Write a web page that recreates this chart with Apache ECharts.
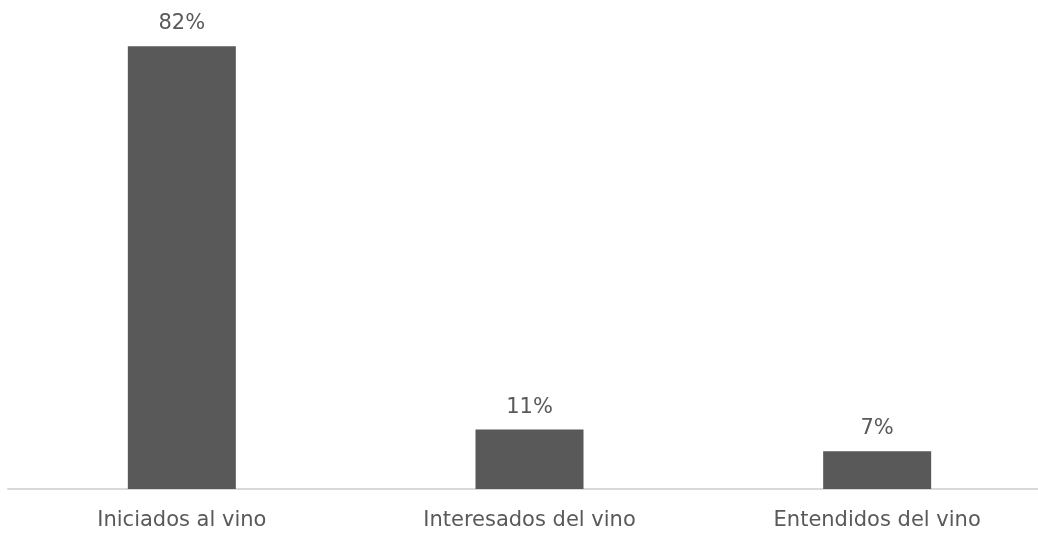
<!DOCTYPE html>
<html>
<head>
<meta charset="utf-8">
<script src="https://cdn.jsdelivr.net/npm/echarts@6/dist/echarts.min.js"></script>
<style>
html,body{margin:0;padding:0;background:#fff;overflow:hidden;width:1038px;height:533px;}
#chart{width:1051px;height:533px;}
</style>
</head>
<body>
<div id="chart"></div>
<script>
const categories = ['Iniciados al vino', 'Interesados del vino', 'Entendidos del vino'];
const values = [82, 11, 7];

const chart = echarts.init(document.getElementById('chart'));
chart.setOption({
  animation: false,
  backgroundColor: '#ffffff',
  grid: { left: 8, right: 0, top: 3, bottom: 44 },
  xAxis: {
    type: 'category',
    data: categories,
    axisLine: { show: true, lineStyle: { color: '#d9d9d9', width: 2 } },
    axisTick: { show: false },
    axisLabel: { color: '#595959', fontSize: 21, fontFamily: 'DejaVu Sans, sans-serif', margin: 21 }
  },
  yAxis: {
    type: 'value',
    min: 0,
    max: 90,
    show: false,
    splitLine: { show: false }
  },
  series: [{
    type: 'bar',
    data: values,
    barWidth: 108,
    itemStyle: { color: '#595959' },
    label: {
      show: true,
      position: 'top',
      distance: 12,
      color: '#595959',
      fontSize: 21,
      fontFamily: 'DejaVu Sans, sans-serif',
      formatter: p => p.value + '%'
    }
  }]
});
</script>
</body>
</html>
